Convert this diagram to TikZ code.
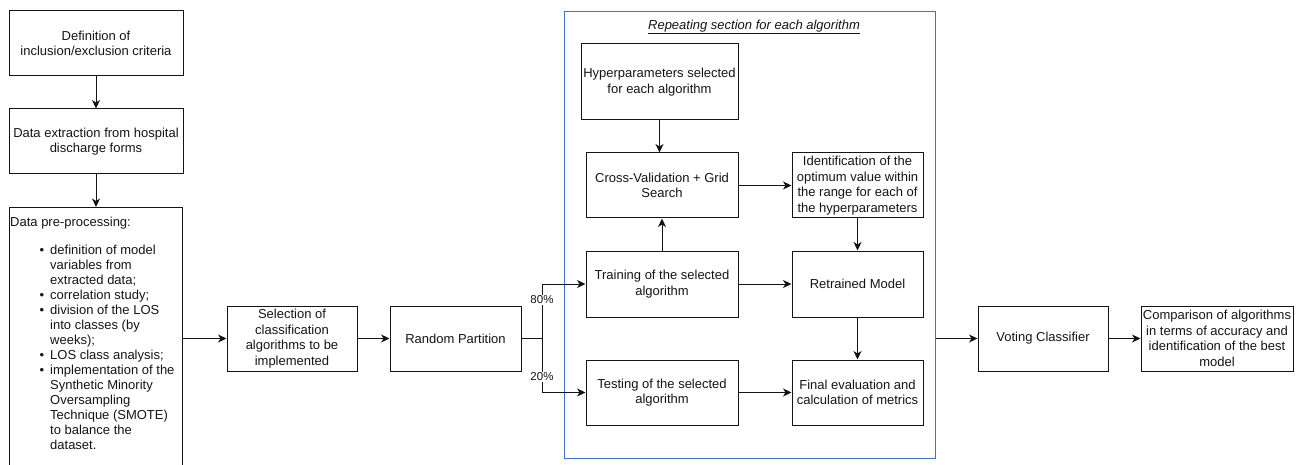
\documentclass[tikz,border=0pt]{standalone}
\usepackage{fontspec}
\setmainfont{Liberation Sans}
\usetikzlibrary{arrows.meta}
\definecolor{secblue}{RGB}{68,114,196}
\definecolor{ink}{RGB}{20,20,20}
\newcommand{\preitem}{\makebox[40pt][r]{\textbullet\hspace{6pt}}}
\newcommand{\precont}{\hspace*{40pt}}
\begin{document}
\begin{tikzpicture}[x=1pt,y=-1pt,
  box/.style={draw=ink, line width=1pt, align=center, inner sep=0pt, text=ink, font=\fontsize{13}{15.5}\selectfont},
  arr/.style={-{Stealth[length=8.5pt,width=8pt,inset=2.5pt]}, line width=1pt, draw=ink},
  lbl/.style={fill=white, inner sep=1pt, text=ink, font=\fontsize{11.5}{13}\selectfont}]
\path[use as bounding box, clip] (0,0) rectangle (1301,465);

% left column
\node[box, minimum width=174pt, minimum height=65pt] (def) at (96,43.5) {Definition of\\inclusion/exclusion criteria};
\node[box, minimum width=174pt, minimum height=65pt] (ext) at (96,141.5) {Data extraction from hospital\\discharge forms};
\node[draw=ink, line width=1pt, inner sep=0pt, minimum width=173pt, minimum height=268pt, anchor=north west] (pre) at (9,207) {};
\node[anchor=north west, align=left, inner sep=0pt, text=ink, font=\fontsize{13}{15}\selectfont] (pretext) at (10,217.2) {Data pre-processing:\\[12.5pt]
\preitem definition of model\\
\precont variables from\\
\precont extracted data;\\
\preitem correlation study;\\
\preitem division of the LOS\\
\precont into classes (by\\
\precont weeks);\\
\preitem LOS class analysis;\\
\preitem implementation of the\\
\precont Synthetic Minority\\
\precont Oversampling\\
\precont Technique (SMOTE)\\
\precont to balance the\\
\precont dataset.};

\node[box, minimum width=130pt, minimum height=65pt] (sel) at (292,338.5) {Selection of\\classification\\algorithms to be\\implemented};
\node[box, minimum width=131pt, minimum height=65pt] (rp) at (455.5,338.5) {Random Partition};

% repeating section
\node[draw=secblue, line width=1pt, inner sep=0pt, minimum width=371pt, minimum height=446pt] (sec) at (749.5,235) {};
\node[inner sep=0pt, text=ink, font=\fontsize{13}{15}\selectfont\itshape] (title) at (754,27) {\underline{Repeating section for each algorithm}};
\node[box, minimum width=157pt, minimum height=76pt] (hyp) at (659.5,82) {Hyperparameters selected\\for each algorithm};
\node[box, minimum width=152pt, minimum height=65pt] (cv) at (662,185.5) {Cross-Validation + Grid\\Search};
\node[box, minimum width=131pt, minimum height=65pt] (ident) at (857.5,185.5) {Identification of the\\optimum value within\\the range for each of\\the hyperparameters};
\node[box, minimum width=152pt, minimum height=66pt] (train) at (662,284) {Training of the selected\\algorithm};
\node[box, minimum width=131pt, minimum height=66pt] (retr) at (857.5,284) {Retrained Model};
\node[box, minimum width=152pt, minimum height=65pt] (test) at (662,392.5) {Testing of the selected\\algorithm};
\node[box, minimum width=131pt, minimum height=65pt] (final) at (857.5,392.5) {Final evaluation and\\calculation of metrics};

% right part
\node[box, minimum width=130pt, minimum height=65pt] (vote) at (1043,338.5) {Voting Classifier};
\node[box, minimum width=152pt, minimum height=65pt] (comp) at (1217,338.5) {Comparison of algorithms\\in terms of accuracy and\\identification of the best\\model};

% connectors
\draw[arr] (def) -- (ext);
\draw[arr] (ext) -- (ext.south |- pre.north);
\draw[arr] (pre.east |- sel.west) -- (sel.west);
\draw[arr] (sel) -- (rp);
\coordinate (split) at (542,338.5);
\draw[line width=1pt, draw=ink] (rp.east) -- (split);
\draw[arr] (split) |- (train.west);
\draw[arr] (split) |- (test.west);
\node[lbl] (l80) at (542,300) {80\%};
\node[lbl] (l20) at (542,377) {20\%};
\draw[arr] (hyp.south) -- (hyp.south |- cv.north);
\draw[arr] (train) -- (cv);
\draw[arr] (cv) -- (ident);
\draw[arr] (ident) -- (retr);
\draw[arr] (train) -- (retr);
\draw[arr] (retr) -- (final);
\draw[arr] (test) -- (final);
\draw[arr] (sec.east |- vote.west) -- (vote.west);
\draw[arr] (vote) -- (comp);
\end{tikzpicture}
\end{document}
